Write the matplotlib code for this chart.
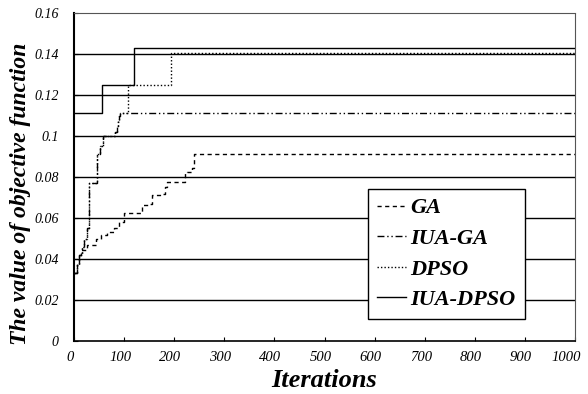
import matplotlib
matplotlib.use("Agg")
import matplotlib.pyplot as plt
from matplotlib.transforms import ScaledTranslation

# values (iteration, objective value), drawn as steps
ga_iter = [0, 5, 10, 13, 26, 43, 53, 66, 79, 89, 99, 135, 149, 155, 175, 182, 185, 222, 225, 235, 239, 1000]
ga_val = [0.033, 0.038, 0.042, 0.0444, 0.0468, 0.050, 0.0517, 0.0533, 0.0553, 0.0582, 0.0623, 0.0663,
          0.067, 0.0712, 0.0717, 0.0753, 0.0774, 0.0818, 0.0826, 0.0842, 0.0912, 0.0912]

iuaga_iter = [0, 5, 10, 15, 20, 25, 29, 46, 52, 57, 82, 85, 88, 90, 92, 1000]
iuaga_val = [0.033, 0.037, 0.042, 0.046, 0.050, 0.055, 0.077, 0.091, 0.095, 0.100, 0.102,
             0.105, 0.108, 0.110, 0.1112, 0.1112]

dpso_iter = [0, 5, 10, 15, 20, 25, 29, 46, 52, 57, 82, 85, 88, 90, 92, 108, 193, 1000]
dpso_val = [0.033, 0.037, 0.042, 0.046, 0.050, 0.055, 0.077, 0.091, 0.095, 0.100, 0.102,
            0.105, 0.108, 0.110, 0.1112, 0.125, 0.1405, 0.1405]

iuadpso_iter = [0, 55, 120, 1000]
iuadpso_val = [0.1112, 0.125, 0.143, 0.143]

x_ticks = [0, 100, 200, 300, 400, 500, 600, 700, 800, 900, 1000]
y_ticks = [0, 0.02, 0.04, 0.06, 0.08, 0.1, 0.12, 0.14, 0.16]
y_tick_labels = ["0", "0.02", "0.04", "0.06", "0.08", "0.1", "0.12", "0.14", "0.16"]

serif = "Liberation Serif"

fig = plt.figure(figsize=(5.88, 3.94), dpi=100)
ax = fig.add_axes([0.126, 0.1345, 0.852, 0.8325])

for y in y_ticks[1:-1]:
    ax.axhline(y, color="black", lw=1.0, zorder=1)

ax.plot(ga_iter, ga_val, drawstyle="steps-post", color="black", lw=1.0,
        linestyle=(0, (3, 2.5)), label="GA", zorder=3)
ax.plot(iuaga_iter, iuaga_val, drawstyle="steps-post", color="black", lw=1.0,
        linestyle=(0, (5, 2, 1, 2, 1, 2)), label="IUA-GA", zorder=3)
ax.plot(dpso_iter, dpso_val, drawstyle="steps-post", color="black", lw=1.0,
        linestyle=(0, (1, 1.5)), label="DPSO", zorder=3)
ax.plot(iuadpso_iter, iuadpso_val, drawstyle="steps-post", color="black", lw=1.0,
        linestyle="-", label="IUA-DPSO", zorder=3)

ax.set_xlim(0, 1000)
ax.set_ylim(0, 0.16)
ax.set_xticks(x_ticks)
ax.set_xticklabels([str(t) for t in x_ticks], fontfamily=serif, fontstyle="italic", fontsize=10.5)
ax.set_yticks(y_ticks)
ax.set_yticklabels(y_tick_labels, fontfamily=serif, fontstyle="italic", fontsize=10)
ax.tick_params(axis="x", direction="in", length=3, width=0.8, pad=7)
ax.tick_params(axis="y", direction="in", length=3, width=0.8, pad=11)

# x tick labels sit a little left of their ticks in the reference
shift = ScaledTranslation(-4 / 100, 0, fig.dpi_scale_trans)
for lab in ax.get_xticklabels():
    lab.set_transform(lab.get_transform() + shift)
last = ax.get_xticklabels()[-1]
last.set_transform(last.get_transform() + ScaledTranslation(-5 / 100, 0, fig.dpi_scale_trans))

ax.spines["left"].set_linewidth(1.5)
ax.spines["bottom"].set_linewidth(1.2)
for side in ["top", "right"]:
    ax.spines[side].set_linestyle((0, (1, 1)))
    ax.spines[side].set_color("#555555")
    ax.spines[side].set_linewidth(0.8)

ax.set_xlabel("Iterations", fontfamily=serif, fontstyle="italic", fontweight="bold", fontsize=19)
ax.xaxis.set_label_coords(0.5, -0.085)
ax.set_ylabel("The value of objective function", fontfamily=serif, fontstyle="italic",
              fontweight="bold", fontsize=17)
ax.yaxis.set_label_coords(-0.086, 0.45)

leg = ax.legend(loc="lower left", bbox_to_anchor=(0.587, 0.067), borderaxespad=0,
                fancybox=False, edgecolor="black", framealpha=1, handlelength=1.3,
                handletextpad=0.2, labelspacing=0.45, borderpad=0.4,
                prop={"family": serif, "style": "italic", "weight": "bold", "size": 16})
leg.get_frame().set_linewidth(1.0)
leg.set_zorder(5)

fig.savefig("out.png", dpi=100)
